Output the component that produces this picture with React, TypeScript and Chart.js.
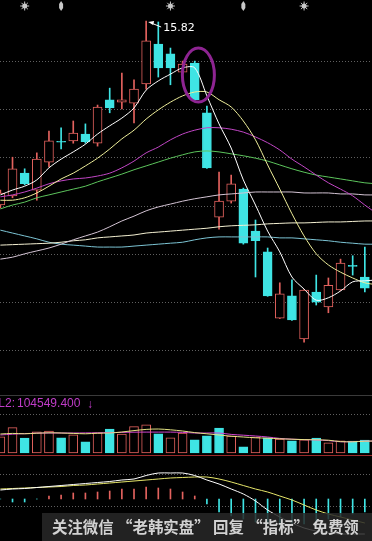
import React, { useEffect, useRef } from "react";
import { Chart, registerables } from "chart.js";

Chart.register(...registerables);

// ---------------- data ----------------
const candleIndex = [-1, 0, 1, 2, 3, 4, 5, 6, 7, 8, 9, 10, 11, 12, 13, 14, 15, 16, 17, 18, 19, 20, 21, 22, 23, 24, 25, 26, 27, 28, 29];
const lineIndex = [-1, 0, 1, 2, 3, 4, 5, 6, 7, 8, 9, 10, 11, 12, 13, 14, 15, 16, 17, 18, 19, 20, 21, 22, 23, 24, 25, 26, 27, 28, 29, 30];

const openPrices = [12.01, 12.20, 12.67, 12.32, 12.90, 13.32, 13.34, 13.48, 13.29, 14.19, 14.14, 14.12, 14.52, 15.34, 15.14, 14.76, 14.95, 13.92, 11.76, 12.09, 12.34, 11.47, 11.04, 9.67, 10.13, 9.24, 10.21, 9.90, 10.25, 10.75, 10.52];
const highPrices = [12.32, 13.00, 12.76, 13.09, 13.54, 13.61, 13.75, 13.69, 14.08, 14.43, 14.74, 14.60, 15.82, 15.80, 15.26, 14.99, 14.99, 14.06, 12.69, 12.63, 12.36, 11.70, 11.12, 10.40, 10.46, 10.26, 10.56, 10.50, 10.89, 10.96, 11.14];
const lowPrices = [11.95, 12.16, 12.43, 12.11, 12.80, 13.17, 13.29, 13.29, 13.23, 13.92, 14.00, 13.71, 14.41, 14.66, 14.50, 14.74, 14.18, 12.77, 11.51, 12.05, 11.20, 10.52, 10.12, 9.66, 9.62, 9.17, 9.94, 9.78, 10.24, 10.56, 10.21];
const closePrices = [12.26, 12.76, 12.45, 12.96, 13.34, 13.31, 13.50, 13.32, 14.04, 14.02, 14.19, 14.41, 15.41, 14.85, 14.85, 14.93, 14.19, 12.78, 12.09, 12.45, 11.22, 11.27, 10.13, 10.17, 9.63, 10.25, 10.00, 10.35, 10.81, 10.74, 10.29];

const ma5 = [12.22, 12.32, 12.40, 12.53, 12.78, 12.96, 13.11, 13.27, 13.48, 13.65, 13.81, 14.02, 14.39, 14.58, 14.72, 14.85, 14.85, 14.27, 13.69, 13.19, 12.53, 12.01, 11.47, 11.04, 10.52, 10.27, 10.04, 10.09, 10.23, 10.42, 10.44, 10.46];
const ma10 = [12.11, 12.11, 12.16, 12.26, 12.40, 12.55, 12.67, 12.82, 12.98, 13.17, 13.38, 13.56, 13.79, 13.98, 14.14, 14.27, 14.35, 14.35, 14.19, 14.04, 13.75, 13.36, 12.84, 12.34, 11.83, 11.37, 11.00, 10.77, 10.62, 10.50, 10.40, 10.36];
const ma20 = [12.18, 12.22, 12.28, 12.36, 12.45, 12.51, 12.55, 12.57, 12.61, 12.67, 12.78, 12.92, 13.09, 13.21, 13.36, 13.48, 13.56, 13.61, 13.61, 13.58, 13.52, 13.42, 13.30, 13.15, 12.96, 12.80, 12.63, 12.47, 12.34, 12.20, 12.01, 11.83];
const ma30 = [11.93, 12.01, 12.07, 12.16, 12.22, 12.28, 12.34, 12.40, 12.49, 12.57, 12.65, 12.74, 12.82, 12.90, 12.98, 13.05, 13.11, 13.13, 13.11, 13.07, 13.03, 12.98, 12.92, 12.84, 12.76, 12.69, 12.63, 12.59, 12.55, 12.51, 12.47, 12.45];
const ma60 = [10.89, 10.93, 11.00, 11.06, 11.12, 11.20, 11.29, 11.37, 11.45, 11.56, 11.68, 11.78, 11.89, 11.97, 12.03, 12.09, 12.14, 12.18, 12.22, 12.24, 12.26, 12.28, 12.28, 12.28, 12.28, 12.26, 12.26, 12.26, 12.24, 12.24, 12.22, 12.22];
const ma120 = [11.18, 11.19, 11.20, 11.21, 11.22, 11.24, 11.27, 11.29, 11.33, 11.35, 11.37, 11.39, 11.43, 11.45, 11.47, 11.49, 11.51, 11.53, 11.56, 11.58, 11.59, 11.60, 11.62, 11.63, 11.64, 11.64, 11.65, 11.66, 11.66, 11.67, 11.68, 11.68];
const ma250 = [11.49, 11.43, 11.37, 11.31, 11.24, 11.20, 11.18, 11.16, 11.14, 11.14, 11.14, 11.16, 11.18, 11.20, 11.22, 11.24, 11.29, 11.33, 11.35, 11.35, 11.35, 11.35, 11.35, 11.33, 11.33, 11.31, 11.29, 11.27, 11.24, 11.22, 11.20, 11.20];

const volumes = [81200, 126500, 74800, 105300, 109800, 76100, 90400, 55600, 100900, 119700, 95200, 131800, 140600, 96300, 75400, 99800, 66200, 85700, 124900, 84300, 30500, 80100, 75800, 70200, 60400, 65900, 74100, 50300, 61200, 59700, 64800];
const volumeRising = [true, true, false, true, true, false, true, false, true, false, true, true, true, false, true, true, false, false, false, true, false, true, false, true, false, true, false, true, true, false, false];
const mavol1 = [95000, 98000, 96000, 99000, 101000, 100000, 98000, 96000, 99000, 100000, 105000, 112000, 118000, 120000, 116000, 110000, 102000, 96000, 90000, 84000, 80000, 76000, 74000, 71000, 69000, 67000, 66000, 64000, 57000, 56000, 59000, 60000];
const mavol2 = [90000, 94000, 97000, 99000, 100000, 100000, 100000, 100500, 101000, 102000, 103000, 104000, 104500, 104500, 104500, 103000, 100000, 100000, 100000, 93000, 89000, 85000, 80000, 73000, 69000, 67000, 65000, 62000, 56000, 57000, 59000, 60000];

const macdBars = [0, -0.06, -0.06, 0, 0.06, 0.08, 0.12, 0.12, 0.14, 0.16, 0.20, 0.20, 0.24, 0.22, 0.20, 0.14, 0.06, -0.10, -0.26, -0.34, -0.40, -0.46, -0.50, -0.52, -0.52, -0.50, -0.46, -0.40, -0.36, -0.30, -0.26];
const difLine = [0.18, 0.20, 0.21, 0.23, 0.25, 0.27, 0.29, 0.31, 0.33, 0.35, 0.38, 0.40, 0.47, 0.52, 0.52, 0.52, 0.47, 0.38, 0.30, 0.20, 0.10, -0.04, -0.22, -0.36, -0.48, -0.58, -0.64, -0.68, -0.70, -0.70, -0.70];
const deaLine = [0.20, 0.21, 0.22, 0.23, 0.24, 0.25, 0.27, 0.28, 0.30, 0.32, 0.34, 0.36, 0.38, 0.40, 0.42, 0.43, 0.44, 0.44, 0.40, 0.34, 0.27, 0.20, 0.14, 0.06, -0.02, -0.12, -0.22, -0.30, -0.36, -0.42, -0.48];

const priceGrid = [15, 14, 13, 12, 11, 10, 9];
const volumeGrid = [195000];
const macdGrid = [0.5, -0.14];
const starMarks = [1, 13, 24];
const arrowMarks = [4, 19];
const circledCandle = { x: 15.3, y: 14.7 };
const volTitleName = "MAVOL2:";
const volTitleValue = "104549.400";
const watermark = "关注微信 “老韩实盘” 回复 “指标” 免费领";

// ---------------- styling / config ----------------
const RED = "#e3625e";
const CYAN = "#3fe4e4";
const X_MIN = -1.03;
const X_MAX = 29.59;
const W = 372;
const MAIN_H = 395;
const VOL_H = 60;
const MACD_H = 86;

const baseOptions = (ymin: number, ymax: number): any => ({
  responsive: false,
  animation: false,
  devicePixelRatio: 1,
  events: [],
  layout: { padding: 0 },
  plugins: { legend: { display: false }, tooltip: { enabled: false } },
  scales: {
    x: { type: "linear", min: X_MIN, max: X_MAX, display: false, offset: false },
    y: { type: "linear", min: ymin, max: ymax, display: false },
  },
});

const line = (label: string, values: number[], color: string, width = 1) => ({
  type: "line",
  label,
  data: values.map((v, k) => ({ x: lineIndex[k], y: v })),
  borderColor: color,
  borderWidth: width,
  pointRadius: 0,
  tension: 0.3,
  order: 0,
});

const dotGrid = (values: number[]) => ({
  id: "dotgrid",
  beforeDatasetsDraw(chart: any) {
    const { ctx, chartArea, scales } = chart;
    ctx.save();
    ctx.strokeStyle = "#606060";
    ctx.lineWidth = 1;
    ctx.setLineDash([1, 2]);
    for (const v of values) {
      const y = Math.round(scales.y.getPixelForValue(v)) + 0.5;
      ctx.beginPath();
      ctx.moveTo(chartArea.left, y);
      ctx.lineTo(chartArea.right, y);
      ctx.stroke();
    }
    ctx.restore();
  },
});

export default function App() {
  const mainRef = useRef<HTMLCanvasElement>(null);
  const volRef = useRef<HTMLCanvasElement>(null);
  const macdRef = useRef<HTMLCanvasElement>(null);

  useEffect(() => {
    document.body.style.margin = "0";
    document.body.style.background = "#000";
    const rising = closePrices.map((c, k) => c >= openPrices[k]);

    // ---------- main price chart ----------
    const mainOverlay = {
      id: "mainOverlay",
      afterDatasetsDraw(chart: any) {
        const { ctx, scales } = chart;
        const xs = scales.x, ys = scales.y;
        ctx.save();
        // highest price label
        let hi = 0;
        highPrices.forEach((h, k) => { if (h > highPrices[hi]) hi = k; });
        const hx = xs.getPixelForValue(candleIndex[hi]) + 2;
        const hy = ys.getPixelForValue(highPrices[hi]) + 1;
        ctx.strokeStyle = "#ffffff";
        ctx.fillStyle = "#ffffff";
        ctx.lineWidth = 1;
        ctx.beginPath();
        ctx.moveTo(hx + 3, hy + 1);
        ctx.lineTo(hx + 13, hy + 5);
        ctx.stroke();
        ctx.beginPath();
        ctx.moveTo(hx, hy);
        ctx.lineTo(hx + 6, hy - 1);
        ctx.lineTo(hx + 5, hy + 3);
        ctx.closePath();
        ctx.fill();
        ctx.font = '11px "DejaVu Sans"';
        ctx.textBaseline = "middle";
        ctx.textAlign = "left";
        ctx.fillText(highPrices[hi].toFixed(2), hx + 15, hy + 6);

        // purple circle
        const cx = xs.getPixelForValue(circledCandle.x);
        const cy = ys.getPixelForValue(circledCandle.y);
        ctx.strokeStyle = "#8e2492";
        ctx.lineWidth = 3;
        ctx.beginPath();
        ctx.ellipse(cx, cy, 16, 27, 0, 0, Math.PI * 2);
        ctx.stroke();

        // top markers
        ctx.fillStyle = "#c8c8c8";
        ctx.strokeStyle = "#c8c8c8";
        ctx.lineWidth = 1;
        for (const i of starMarks) {
          const x = xs.getPixelForValue(i);
          const y = 6;
          ctx.beginPath();
          ctx.arc(x, y, 2.5, 0, Math.PI * 2);
          ctx.fill();
          for (let a = 0; a < 8; a++) {
            const ang = (a * Math.PI) / 4;
            ctx.beginPath();
            ctx.moveTo(x + Math.cos(ang) * 2, y + Math.sin(ang) * 2);
            ctx.lineTo(x + Math.cos(ang) * 4.5, y + Math.sin(ang) * 4.5);
            ctx.stroke();
          }
        }
        for (const i of arrowMarks) {
          const x = xs.getPixelForValue(i);
          const y = 6;
          ctx.beginPath();
          ctx.moveTo(x, y - 5);
          ctx.lineTo(x + 2, y - 2);
          ctx.lineTo(x + 2, y + 2);
          ctx.lineTo(x, y + 5);
          ctx.lineTo(x - 2, y + 2);
          ctx.lineTo(x - 2, y - 2);
          ctx.closePath();
          ctx.fill();
        }
        ctx.restore();
      },
    };

    const mainChart = new Chart(mainRef.current as HTMLCanvasElement, {
      type: "bar",
      data: {
        datasets: [
          line("MA5", ma5, "#ffffff"),
          line("MA10", ma10, "#eeee9a"),
          line("MA20", ma20, "#c246c6"),
          line("MA30", ma30, "#5cc45c"),
          line("MA60", ma60, "#d4c4d4"),
          line("MA120", ma120, "#f4f0d2"),
          line("MA250", ma250, "#7cc4d4"),
          {
            type: "bar",
            label: "upper",
            data: candleIndex.map((x, k) => ({ x, y: [Math.max(openPrices[k], closePrices[k]), highPrices[k]] })),
            backgroundColor: rising.map((u) => (u ? RED : CYAN)),
            barThickness: 1,
            grouped: false,
            order: 2,
          },
          {
            type: "bar",
            label: "lower",
            data: candleIndex.map((x, k) => ({ x, y: [lowPrices[k], Math.min(openPrices[k], closePrices[k])] })),
            backgroundColor: rising.map((u) => (u ? RED : CYAN)),
            barThickness: 1,
            grouped: false,
            order: 2,
          },
          {
            type: "bar",
            label: "body",
            data: candleIndex.map((x, k) => ({ x, y: [Math.min(openPrices[k], closePrices[k]), Math.max(openPrices[k], closePrices[k])] })),
            backgroundColor: rising.map((u) => (u ? "#000000" : CYAN)),
            borderColor: rising.map((u) => (u ? RED : CYAN)),
            borderWidth: 1,
            borderSkipped: false,
            barThickness: 9,
            minBarLength: 1,
            grouped: false,
            order: 1,
          },
        ] as any,
      },
      options: baseOptions(8.077, 16.255),
      plugins: [dotGrid(priceGrid), mainOverlay],
    });

    // ---------- volume chart ----------
    const volOverlay = {
      id: "volOverlay",
      afterDraw(chart: any) {
        const { ctx } = chart;
        ctx.save();
        ctx.strokeStyle = "#3a3a3a";
        ctx.lineWidth = 1;
        ctx.beginPath();
        ctx.moveTo(0, 0.5);
        ctx.lineTo(W, 0.5);
        ctx.stroke();
        ctx.font = '12px "Liberation Sans"';
        ctx.fillStyle = "#c03cc8";
        ctx.textBaseline = "middle";
        ctx.textAlign = "right";
        ctx.fillText(volTitleName, 15, 9);
        ctx.textAlign = "left";
        ctx.fillText(volTitleValue, 17, 9);
        ctx.fillText("↓", 87, 10);
        ctx.restore();
      },
    };
    const volChart = new Chart(volRef.current as HTMLCanvasElement, {
      type: "bar",
      data: {
        datasets: [
          line("MAVOL1", mavol1, "#e4e484"),
          line("MAVOL2", mavol2, "#d044d0"),
          {
            type: "bar",
            label: "VOL",
            data: candleIndex.map((x, k) => ({ x, y: volumes[k] })),
            backgroundColor: volumeRising.map((u) => (u ? "#000000" : CYAN)),
            borderColor: volumeRising.map((u) => (u ? RED : CYAN)),
            borderWidth: 1,
            borderSkipped: false,
            barThickness: 9,
            grouped: false,
            order: 1,
          },
        ] as any,
      },
      options: baseOptions(-10000, 290000),
      plugins: [dotGrid(volumeGrid), volOverlay],
    });

    // ---------- MACD chart ----------
    const macdOverlay = {
      id: "macdOverlay",
      afterDraw(chart: any) {
        const { ctx } = chart;
        ctx.save();
        ctx.strokeStyle = "#9a2a2a";
        ctx.lineWidth = 1;
        ctx.beginPath();
        ctx.moveTo(0, 0.5);
        ctx.lineTo(W, 0.5);
        ctx.stroke();
        ctx.fillStyle = "rgba(40,40,40,0.85)";
        ctx.fillRect(42, 58, W - 42, MACD_H - 58);
        let size = 19;
        ctx.font = `bold ${size}px "Noto Sans CJK SC"`;
        const w = ctx.measureText(watermark).width;
        size = (size * 307) / w;
        ctx.font = `bold ${size}px "Noto Sans CJK SC"`;
        ctx.fillStyle = "#d2d2d2";
        ctx.textBaseline = "middle";
        ctx.textAlign = "left";
        ctx.fillText(watermark, 52, 72);
        ctx.restore();
      },
    };
    const macdChart = new Chart(macdRef.current as HTMLCanvasElement, {
      type: "bar",
      data: {
        datasets: [
          line("DIF", difLine, "#ffffff"),
          line("DEA", deaLine, "#e6e66a"),
          {
            type: "bar",
            label: "MACD",
            data: candleIndex.map((x, k) => ({ x, y: macdBars[k] })),
            backgroundColor: macdBars.map((v) => (v > 0 ? RED : CYAN)),
            barThickness: 1,
            grouped: false,
            order: 1,
          },
        ] as any,
      },
      options: baseOptions(-0.84, 0.88),
      plugins: [dotGrid(macdGrid), macdOverlay],
    });

    return () => {
      mainChart.destroy();
      volChart.destroy();
      macdChart.destroy();
    };
  }, []);

  const cs = (top: number, h: number): React.CSSProperties => ({ position: "absolute", left: 0, top, width: W, height: h, display: "block" });

  return (
    <div style={{ position: "relative", width: W, height: MAIN_H + VOL_H + MACD_H, background: "#000", overflow: "hidden" }}>
      <canvas ref={mainRef} width={W} height={MAIN_H} style={cs(0, MAIN_H)} />
      <canvas ref={volRef} width={W} height={VOL_H} style={cs(MAIN_H, VOL_H)} />
      <canvas ref={macdRef} width={W} height={MACD_H} style={cs(MAIN_H + VOL_H, MACD_H)} />
    </div>
  );
}
